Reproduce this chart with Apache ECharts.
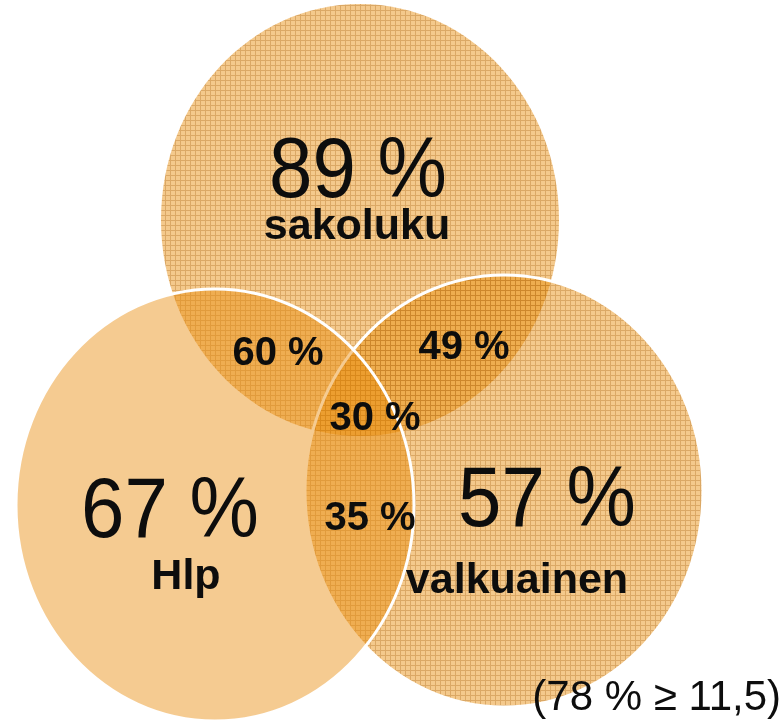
<!DOCTYPE html>
<html>
<head>
<meta charset="utf-8">
<script src="https://cdn.jsdelivr.net/npm/echarts@6/dist/echarts.min.js"></script>
<style>
html, body { margin: 0; padding: 0; background: #fff; }
#chart { width: 783px; height: 726px; }
</style>
</head>
<body>
<div id="chart"></div>
<script>
// osuudet (%), piirtojärjestys: sakoluku, valkuainen, Hlp
const setNames = ['sakoluku', 'valkuainen', 'Hlp'];
const setShares = [89, 57, 67];
const pairNames = ['sakoluku + Hlp', 'sakoluku + valkuainen', 'Hlp + valkuainen'];
const pairShares = [60, 49, 35];
const allThreeShare = 30;
const proteinNote = '(78 % ≥ 11,5)';

// sijainnit piilotettujen akselien yksiköissä (0..783, 0..726)
const circleCenters = [[360, 220], [504, 491], [215, 505]];
const circleRadius = [199, 216];
const setValuePos = [[358, 174], [547, 503], [170, 514]];
const setNamePos = [[357, 227], [517, 581], [186, 577]];
const pairPos = [[278, 354], [464, 348], [370, 519]];
const allThreePos = [375, 419];
const notePos = [781, 698];

const FONT = "'Liberation Sans', Arial, sans-serif";

// ruudukkokuvio (sakoluku + valkuainen)
function makeGrid() {
    const c = document.createElement('canvas');
    c.width = 5; c.height = 5;
    const g = c.getContext('2d');
    g.fillStyle = 'rgba(232,140,10,0.47)';
    g.fillRect(0, 0, 5, 5);
    g.fillStyle = 'rgba(160,90,10,0.3)';
    g.fillRect(0, 0, 5, 1);
    g.fillRect(0, 1, 1, 4);
    return c;
}
const gridFill = { image: makeGrid(), repeat: 'repeat' };
const plainFill = 'rgba(232,140,10,0.45)';

const circleData = setNames.map((n, i) => ({
    name: n,
    value: [circleCenters[i][0], circleCenters[i][1], setShares[i]]
}));

const labels = [];
setNames.forEach((n, i) => {
    labels.push({ value: setValuePos[i], text: setShares[i] + ' %', font: 'normal 78px ' + FONT, align: 'center', sy: 1.09 });
    labels.push({ value: setNamePos[i], text: n, font: 'bold 43px ' + FONT, align: 'center' });
});
pairNames.forEach((n, i) => {
    labels.push({ value: pairPos[i], text: pairShares[i] + ' %', font: 'bold 40px ' + FONT, align: 'center' });
});
labels.push({ value: allThreePos, text: allThreeShare + ' %', font: 'bold 40px ' + FONT, align: 'center' });
labels.push({ value: notePos, text: proteinNote, font: 'normal 42px ' + FONT, align: 'right' });

const myChart = echarts.init(document.getElementById('chart'));

myChart.setOption({
    animation: false,
    grid: { left: 0, right: 0, top: 0, bottom: 0 },
    xAxis: { type: 'value', min: 0, max: 783, show: false },
    yAxis: { type: 'value', min: 0, max: 726, inverse: true, show: false },
    series: [
        {
            type: 'custom',
            clip: false,
            data: circleData,
            renderItem: function (params, api) {
                const i = params.dataIndex;
                const c = api.coord([api.value(0), api.value(1)]);
                const s = api.size(circleRadius);
                return {
                    type: 'ellipse',
                    shape: { cx: c[0], cy: c[1], rx: s[0], ry: s[1] },
                    style: {
                        fill: i === 2 ? plainFill : gridFill,
                        stroke: i === 0 ? null : '#fff',
                        lineWidth: 3
                    }
                };
            }
        },
        {
            type: 'custom',
            clip: false,
            data: labels,
            renderItem: function (params, api) {
                const d = labels[params.dataIndex];
                const p = api.coord([api.value(0), api.value(1)]);
                return {
                    type: 'text',
                    x: p[0],
                    y: p[1],
                    scaleY: d.sy || 1,
                    style: {
                        text: d.text,
                        font: d.font,
                        fill: '#0d0d0d',
                        align: d.align,
                        verticalAlign: 'middle'
                    }
                };
            }
        }
    ]
});
</script>
</body>
</html>
